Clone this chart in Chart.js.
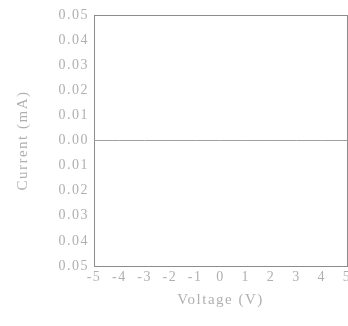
<!DOCTYPE html>
<html><head><meta charset="utf-8">
<script src="https://cdn.jsdelivr.net/npm/chart.js@4"></script>
<style>html,body{margin:0;padding:0;background:#fff;}canvas{display:block;}</style>
</head><body>
<canvas id="c" width="348" height="326"></canvas>
<script>
const voltage = [-5, -4, -3, -2, -1, 0, 1, 2, 3, 4, 5];
const current = [0, 0, 0, 0, 0, 0, 0, 0, 0, 0, 0];
const xTickLabels = ['-5', '-4', '-3', '-2', '-1', '0', '1', '2', '3', '4', '5'];
const yTickLabels = ['0.05', '0.04', '0.03', '0.02', '0.01', '0.00', '0.01', '0.02', '0.03', '0.04', '0.05'];
const xTitle = 'Voltage (V)';
const yTitle = 'Current (mA)';

const textColor = '#b0b0b0';
const borderColor = '#8c8c8c';
const font = {family: '"Liberation Serif", "DejaVu Serif", serif', size: 14};
const dash = [1, 1];
const ls = '1.5px';

const spacing = {
  id: 'spacing',
  beforeInit(chart) { chart.ctx.letterSpacing = ls; },
  beforeLayout(chart) { chart.ctx.letterSpacing = ls; },
  beforeDraw(chart) { chart.ctx.letterSpacing = ls; }
};

new Chart(document.getElementById('c'), {
  type: 'line',
  plugins: [spacing],
  data: {
    datasets: [{
      data: voltage.map((v, i) => ({x: v, y: current[i]})),
      borderColor: '#a0a0a0',
      borderWidth: 1,
      pointRadius: 0,
      tension: 0
    }]
  },
  options: {
    responsive: false,
    animation: false,
    events: [],
    layout: {padding: {left: 0, top: 15, right: 1, bottom: 0}},
    plugins: {legend: {display: false}, tooltip: {enabled: false}},
    scales: {
      x: {
        type: 'linear', min: -5, max: 5,
        afterBuildTicks: s => { s.ticks = voltage.map(v => ({value: v})); },
        afterFit: s => { s.height = 60; s.paddingLeft = 0; s.paddingRight = 0; },
        grid: {display: false, drawTicks: false},
        border: {display: true, color: borderColor, width: 1, dash: dash},
        ticks: {color: textColor, font: font, padding: 3, maxRotation: 0,
          callback: (v, i) => xTickLabels[i]},
        title: {display: true, text: xTitle, color: textColor,
          font: {family: font.family, size: 15}, padding: {top: 0, bottom: 17}}
      },
      y: {
        type: 'linear', min: -0.05, max: 0.05,
        afterBuildTicks: s => { s.ticks = yTickLabels.map((t, i) => ({value: 0.05 - i * 0.01})); },
        afterFit: s => { s.width = 94; s.paddingTop = 0; s.paddingBottom = 0; },
        grid: {display: false, drawTicks: false},
        border: {display: true, color: borderColor, width: 1, dash: dash},
        ticks: {color: textColor, font: font, padding: 5,
          callback: (v, i) => yTickLabels[yTickLabels.length - 1 - i]},
        title: {display: true, text: yTitle, color: textColor,
          font: {family: font.family, size: 15}, padding: {top: 14, bottom: 0}}
      },
      x2: {
        type: 'linear', position: 'top', min: -5, max: 5,
        grid: {display: false, drawTicks: false}, ticks: {display: false},
        afterFit: s => { s.height = 0; },
        border: {display: true, color: borderColor, width: 1, dash: dash}
      },
      y2: {
        type: 'linear', position: 'right', min: -0.05, max: 0.05,
        grid: {display: false, drawTicks: false}, ticks: {display: false},
        afterFit: s => { s.width = 0; },
        border: {display: true, color: borderColor, width: 1, dash: dash}
      }
    }
  }
});
</script>
</body></html>
